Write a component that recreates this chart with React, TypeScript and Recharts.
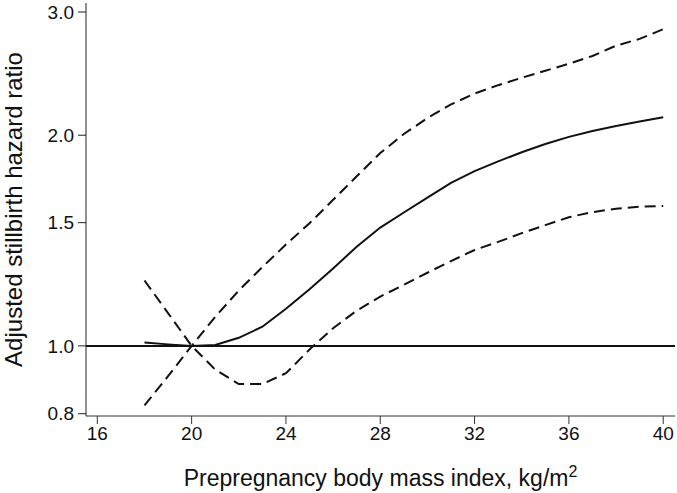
import React from 'react';
import { LineChart, Line, XAxis, YAxis, ReferenceLine } from 'recharts';

// prepregnancy BMI (kg/m2) and the adjusted stillbirth hazard ratio curve
const bmi = [18, 19, 20, 21, 22, 23, 24, 25, 26, 27, 28, 29, 30, 31, 32, 33, 34, 35, 36, 37, 38, 39, 40];
const hazardRatio = [1.011, 1.005, 1.0, 1.003, 1.027, 1.065, 1.13, 1.205, 1.29, 1.386, 1.476, 1.551, 1.629, 1.71, 1.777, 1.835, 1.891, 1.943, 1.989, 2.028, 2.062, 2.092, 2.122];
// confidence bounds (they cross at the reference BMI of 20)
const ciHigh = [0.822, 0.905, 1.0, 1.1, 1.2, 1.296, 1.396, 1.497, 1.617, 1.747, 1.886, 2.008, 2.116, 2.213, 2.294, 2.358, 2.416, 2.473, 2.53, 2.596, 2.685, 2.746, 2.835];
const ciLow = [1.24, 1.114, 1.0, 0.925, 0.882, 0.882, 0.914, 0.988, 1.06, 1.123, 1.176, 1.223, 1.272, 1.322, 1.371, 1.408, 1.449, 1.488, 1.527, 1.553, 1.57, 1.581, 1.585];

const xTicks = [16, 20, 24, 28, 32, 36, 40];
const yTicks = [0.8, 1.0, 1.5, 2.0, 3.0];

const data = bmi.map((b, i) => ({ bmi: b, hr: hazardRatio[i], high: ciHigh[i], low: ciLow[i] }));

const font = '"Liberation Sans", Arial, sans-serif';
const ink = '#111';

// x title with a real superscript for m2
const XTitle = (props: any) => {
  const { viewBox } = props;
  const cx = viewBox.x + viewBox.width / 2;
  return (
    <text x={cx} y={486} textAnchor="middle" fill={ink} fontSize={23} fontFamily={font}>
      Prepregnancy body mass index, kg/m
      <tspan fontSize={16} dy={-9}>2</tspan>
    </text>
  );
};

export default function App() {
  return (
    <div style={{ position: 'absolute', left: 0, top: 0, background: '#fff', fontFamily: font }}>
      <LineChart width={677} height={493} data={data} margin={{ top: 3, right: 2, bottom: 0, left: 0 }}>
        <XAxis
          dataKey="bmi"
          type="number"
          domain={[15.52, 40.5]}
          ticks={xTicks}
          allowDataOverflow
          height={77}
          tickSize={8}
          tickMargin={3}
          stroke="#333"
          tick={{ fill: ink, fontSize: 19, fontFamily: font }}
          label={<XTitle />}
        />
        <YAxis
          type="number"
          scale="log"
          domain={[0.794, 3.09]}
          ticks={yTicks}
          allowDataOverflow
          width={86}
          tickSize={8}
          tickMargin={4}
          stroke="#222"
          tickFormatter={(v: number) => v.toFixed(1)}
          tick={{ fill: ink, fontSize: 19, fontFamily: font }}
          label={{ value: 'Adjusted stillbirth hazard ratio', angle: -90, position: 'insideLeft', offset: 13, style: { textAnchor: 'middle' }, fill: ink, fontSize: 24, fontFamily: font }}
        />
        <ReferenceLine y={1} stroke="#111" strokeWidth={2} />
        <Line type="linear" dataKey="hr" stroke="#111" strokeWidth={2} dot={false} isAnimationActive={false} />
        <Line type="linear" dataKey="high" stroke="#111" strokeWidth={2} strokeDasharray="11 6" dot={false} isAnimationActive={false} />
        <Line type="linear" dataKey="low" stroke="#111" strokeWidth={2} strokeDasharray="11 6" dot={false} isAnimationActive={false} />
      </LineChart>
    </div>
  );
}
